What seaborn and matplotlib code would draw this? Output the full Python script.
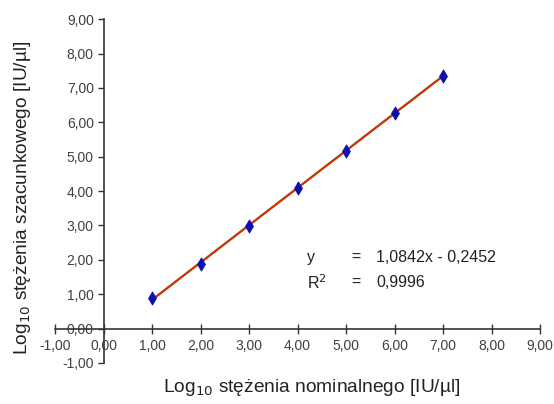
import matplotlib
matplotlib.use("Agg")
import matplotlib.pyplot as plt
import seaborn as sns
import numpy as np
import pandas as pd
from matplotlib import font_manager

x_nominal = [1, 2, 3, 4, 5, 6, 7]
y_estimated = [0.90, 1.87, 2.98, 4.09, 5.18, 6.27, 7.36]
slope = 1.0842
intercept = -0.2452
r2_text = "0,9996"
ticks = [-1, 0, 1, 2, 3, 4, 5, 6, 7, 8, 9]
tick_labels = ["-1,00", "0,00", "1,00", "2,00", "3,00", "4,00", "5,00", "6,00", "7,00", "8,00", "9,00"]

sns.set_style("white")
plt.rcParams['font.family'] = ['Liberation Sans', 'DejaVu Sans']
names = {f.name for f in font_manager.fontManager.ttflist}
tick_font = 'Liberation Sans Narrow' if 'Liberation Sans Narrow' in names else 'Liberation Sans'

df = pd.DataFrame({"x": x_nominal, "y": y_estimated})
fig = plt.figure(figsize=(5.54, 4.04), dpi=100)
ax = fig.add_axes([0.0993, 0.1015, 0.8755, 0.851])

p = np.polyfit(df["x"], df["y"], 1)
xs = np.array([min(x_nominal), max(x_nominal)])
sns.lineplot(x=xs, y=np.polyval(p, xs), ax=ax, color="#3a9a3a", lw=1.7)
sns.lineplot(x=xs, y=slope * xs + intercept, ax=ax, color="#ff1a00", lw=1.2)
sns.scatterplot(data=df, x="x", y="y", ax=ax, marker="d", s=45, color="#0a10b0",
                edgecolor="#0a10b0", linewidth=0.6, zorder=5)

ax.set_xlim(-1, 9)
ax.set_ylim(-1, 9)
for s in ["top", "right"]:
    ax.spines[s].set_visible(False)
ax.spines["left"].set_position(("data", 0))
ax.spines["bottom"].set_position(("data", 0))
for s in ["left", "bottom"]:
    ax.spines[s].set_color("#333333")
    ax.spines[s].set_linewidth(1.2)
ax.set_xticks(ticks)
ax.set_xticklabels(tick_labels, fontfamily=tick_font)
ax.set_yticks(ticks)
ax.set_yticklabels(tick_labels, fontfamily=tick_font)
ax.tick_params(axis="x", bottom=True, direction="inout", length=7, width=1, color="#333333",
               labelsize=10, labelcolor="#404040", pad=4)
ax.tick_params(axis="y", left=True, direction="out", length=4, width=1, color="#333333",
               labelsize=10, labelcolor="#404040", pad=3)
ax.set_xlabel("")
ax.set_ylabel("")

fig.text(0.563, 0.04, "Log$_{10}$ stężenia nominalnego [IU/µl]", ha="center", va="center",
         fontsize=13.8, color="#222222")
fig.text(0.04, 0.51, "Log$_{10}$ stężenia szacunkowego [IU/µl]", ha="center", va="center",
         rotation=90, fontsize=13.8, color="#222222")

fs = 11.5
ax.text(4.2, 2.06, "y", fontsize=fs, color="#222222", va="center")
ax.text(5.1, 2.06, "=", fontsize=fs, color="#222222", va="center")
ax.text(5.62, 2.06, f"{slope:.4f}".replace(".", ",") + "x - " + f"{-intercept:.4f}".replace(".", ","),
        fontsize=fs, color="#222222", va="center")
ax.text(4.2, 1.34, "R$^2$", fontsize=fs, color="#222222", va="center")
ax.text(5.1, 1.34, "=", fontsize=fs, color="#222222", va="center")
ax.text(5.62, 1.34, r2_text, fontsize=fs, color="#222222", va="center")

fig.savefig("out.png", dpi=100)
